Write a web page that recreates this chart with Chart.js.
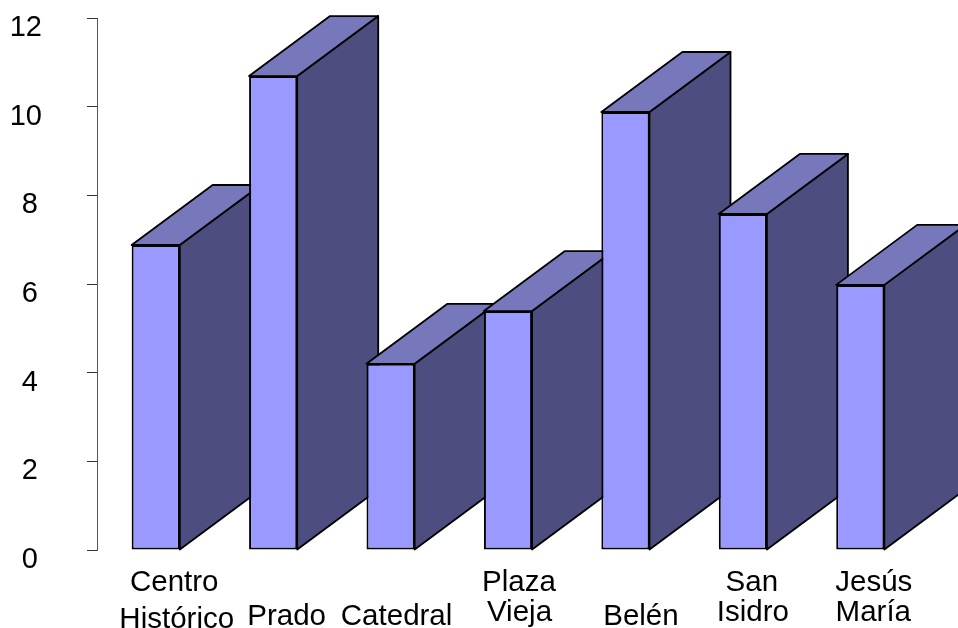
<!DOCTYPE html>
<html>
<head>
<meta charset="utf-8">
<script src="https://cdn.jsdelivr.net/npm/chart.js@4"></script>
<style>
  html, body { margin: 0; padding: 0; background: #fff; overflow: hidden; }
  canvas { display: block; }
</style>
</head>
<body>
<canvas id="one" width="958" height="628"></canvas>
<script>
// barrios and their values
const categories = ['Centro Histórico', 'Prado', 'Catedral', 'Plaza Vieja', 'Belén', 'San Isidro', 'Jesús María'];
const values = [6.88, 10.69, 4.2, 5.39, 9.88, 7.58, 5.98];
const yTicks = [0, 2, 4, 6, 8, 10, 12];

// how each name breaks over lines under the axis
const labelLines = [['Centro', 'Histórico'], ['Prado'], ['Catedral'], ['Plaza', 'Vieja'], ['Belén'], ['San', 'Isidro'], ['Jesús', 'María']];
const labelShift = [[18.5, 21], [13.5], [6], [11, 11.5], [15.5], [9, 10], [13.5, 13]];
const labelBaseline = [[591, 628], [625], [625], [591, 621], [625], [591, 621], [591, 621]];

const FONT = '"Liberation Sans", Arial, sans-serif';
const depthX = 81;
const depthY = 60;

function face(c, pts, fill) {
  c.beginPath();
  c.moveTo(pts[0][0], pts[0][1]);
  for (let i = 1; i < pts.length; i++) c.lineTo(pts[i][0], pts[i][1]);
  c.closePath();
  c.fillStyle = fill;
  c.fill();
  c.stroke();
}

// side and top of every bar, offset from the bar rectangles the chart computed
const depthFaces = {
  id: 'depthFaces',
  beforeDatasetsDraw(chart) {
    const c = chart.ctx;
    c.save();
    c.strokeStyle = '#000';
    c.lineWidth = 1.8;
    c.lineJoin = 'round';
    chart.getDatasetMeta(0).data.forEach(function(bar) {
      const left = bar.x - bar.width / 2;
      const right = bar.x + bar.width / 2;
      face(c, [[right, bar.y], [right + depthX, bar.y - depthY], [right + depthX, bar.base - depthY], [right, bar.base]], '#4d4d80');
      face(c, [[left, bar.y], [left + depthX, bar.y - depthY], [right + depthX, bar.y - depthY], [right, bar.y]], '#7777bb');
    });
    c.restore();
  }
};

// names under the axis, each one sits off centre from its bar
const xLabels = {
  id: 'xLabels',
  afterDraw(chart) {
    const c = chart.ctx;
    const x = chart.scales.x;
    c.save();
    c.font = '29.5px ' + FONT;
    c.fillStyle = '#000';
    c.textAlign = 'center';
    c.textBaseline = 'alphabetic';
    labelLines.forEach(function(lines, i) {
      lines.forEach(function(line, j) {
        c.fillText(line, x.getPixelForTick(i) + labelShift[i][j], labelBaseline[i][j]);
      });
    });
    c.restore();
  }
};

new Chart(document.getElementById('one'), {
  type: 'bar',
  data: {
    labels: categories,
    datasets: [{
      data: values,
      backgroundColor: '#9999ff',
      borderColor: '#000',
      borderWidth: 2,
      borderSkipped: false,
      barPercentage: 0.41,
      categoryPercentage: 1
    }]
  },
  options: {
    responsive: false,
    animation: false,
    layout: { padding: { top: 18, right: 39, left: 0, bottom: 0 } },
    plugins: { legend: { display: false }, tooltip: { enabled: false } },
    scales: {
      x: {
        border: { display: false },
        grid: { display: false },
        ticks: { display: false },
        afterFit(scale) { scale.height = 78; }
      },
      y: {
        min: 0,
        max: 12,
        afterBuildTicks(scale) { scale.ticks = yTicks.map(function(v) { return { value: v }; }); },
        border: { display: true, color: '#555', width: 1 },
        grid: { drawOnChartArea: false, drawTicks: true, tickLength: 10, color: '#333' },
        ticks: {
          color: '#000',
          font: { family: FONT, size: 29 },
          crossAlign: 'center',
          padding: 45,
          labelOffset: 10,
          // single digits sit a little right of the two digit labels
          callback(v) { return String(v).padStart(2, ' '); }
        },
        afterFit(scale) {
          scale.width = 97;
          scale.paddingTop = 0;
          scale.paddingBottom = 0;
        }
      }
    }
  },
  plugins: [depthFaces, xLabels]
});
</script>
</body>
</html>
